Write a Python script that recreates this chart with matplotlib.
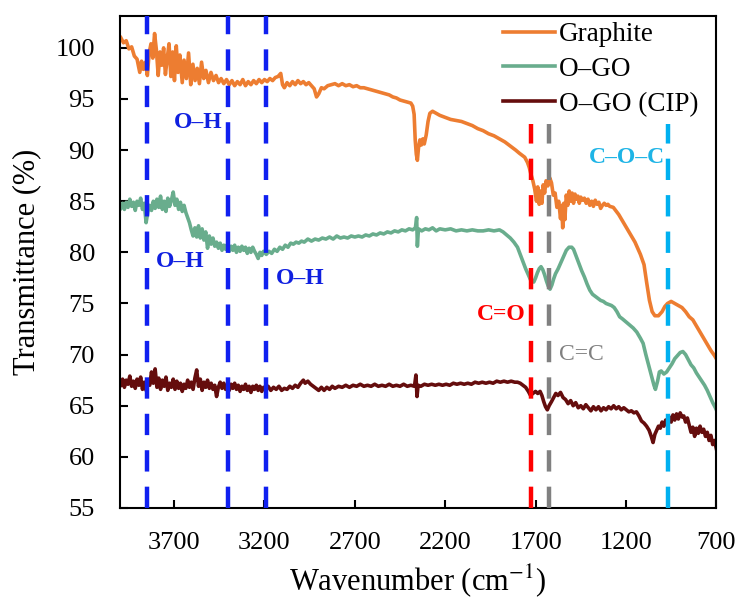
import matplotlib
matplotlib.use("Agg")
import matplotlib.pyplot as plt

# FTIR spectra (wavenumber in cm-1, transmittance in %)
graphite_wn = [3995, 3980, 3965, 3950, 3935, 3920, 3905, 3890, 3880, 3870, 3858, 3848, 3838, 3828,
               3818, 3808, 3798, 3788, 3778, 3768, 3758, 3748, 3738, 3728, 3718, 3708, 3698, 3688,
               3678, 3668, 3655, 3645, 3632, 3620, 3608, 3596, 3584, 3572, 3560, 3548, 3536, 3524,
               3510, 3496, 3482, 3468, 3454, 3440, 3425, 3410, 3395, 3380, 3365, 3350, 3335, 3320,
               3305, 3290, 3275, 3260, 3245, 3230, 3215, 3200, 3185, 3170, 3155, 3140, 3125, 3110,
               3100, 3090, 3075, 3060, 3045, 3030, 3015, 3000, 2985, 2970, 2955, 2940, 2925, 2912,
               2900, 2885, 2870, 2850, 2830, 2810, 2790, 2770, 2750, 2730, 2710, 2690, 2670, 2650,
               2630, 2610, 2590, 2570, 2550, 2530, 2510, 2490, 2470, 2450, 2430, 2410, 2390, 2380,
               2372, 2366, 2360, 2354, 2348, 2340, 2332, 2324, 2316, 2305, 2295, 2285, 2270, 2250,
               2230, 2200, 2170, 2140, 2110, 2080, 2050, 2020, 1990, 1960, 1930, 1900, 1870, 1840,
               1810, 1790, 1775, 1760, 1745, 1735, 1725, 1715, 1705, 1695, 1688, 1680, 1672, 1665,
               1658, 1650, 1642, 1632, 1622, 1612, 1602, 1592, 1582, 1572, 1562, 1556, 1550, 1544,
               1538, 1530, 1522, 1514, 1506, 1498, 1490, 1482, 1474, 1466, 1458, 1450, 1440, 1430,
               1420, 1410, 1400, 1390, 1380, 1370, 1360, 1350, 1340, 1330, 1320, 1310, 1300, 1290,
               1270, 1240, 1210, 1180, 1150, 1120, 1100, 1085, 1070, 1055, 1040, 1020, 1000, 985,
               970, 950, 930, 910, 890, 870, 850, 830, 810, 790, 770, 750, 730, 710, 700]
graphite_t = [101.0, 100.5, 100.7, 99.9, 100.1, 99.2, 98.9, 97.6, 98.7, 97.9, 98.6, 97.3, 99.5, 100.4,
              99.0, 101.4, 99.8, 97.3, 99.6, 98.3, 100.0, 97.4, 99.0, 100.4, 97.2, 99.6, 96.8, 100.2,
              97.6, 99.3, 96.6, 98.8, 97.0, 99.5, 96.4, 98.4, 96.8, 98.0, 96.5, 98.6, 97.0, 97.8,
              96.6, 97.6, 96.8, 97.3, 96.6, 97.0, 96.5, 96.9, 96.4, 96.8, 96.3, 96.7, 96.4, 96.9,
              96.3, 96.7, 96.4, 96.8, 96.5, 96.9, 96.6, 96.9, 96.7, 97.0, 96.8, 97.1, 97.2, 97.5,
              96.4, 96.1, 96.6, 96.3, 96.7, 96.4, 96.8, 96.5, 96.7, 96.4, 96.6, 96.3, 96.0, 95.2,
              95.5, 96.1, 96.0, 96.3, 96.4, 96.5, 96.3, 96.5, 96.3, 96.4, 96.2, 96.3, 96.1, 96.1,
              96.0, 95.9, 95.8, 95.7, 95.6, 95.5, 95.4, 95.2, 95.1, 94.9, 94.8, 94.7, 94.6, 94.3,
              93.5, 91.0, 89.6, 89.0, 90.2, 91.0, 90.5, 91.1, 90.6, 91.5, 92.8, 93.6, 93.8, 93.6,
              93.4, 93.2, 93.0, 92.9, 92.8, 92.6, 92.4, 92.1, 91.9, 91.6, 91.4, 91.1, 90.8, 90.4,
              90.0, 89.7, 89.5, 89.3, 88.8, 88.3, 87.6, 87.0, 86.2, 85.0, 86.4, 84.7, 86.0, 84.8,
              86.6, 85.8, 87.0, 86.5, 87.3, 86.8, 85.6, 85.8, 84.4, 85.0, 83.3, 84.6, 82.4, 84.8,
              83.2, 85.6, 84.6, 86.0, 85.0, 85.8, 84.8, 85.7, 85.2, 85.5, 84.8, 85.4, 85.1, 85.3,
              84.8, 85.2, 84.6, 85.0, 84.5, 85.1, 84.7, 84.9, 84.3, 84.6, 84.8, 84.6, 84.7, 84.5,
              84.4, 83.7, 82.8, 81.9, 81.0, 79.8, 78.8, 77.0, 75.3, 74.2, 73.8, 73.8, 74.2, 74.7,
              75.0, 75.2, 75.0, 74.8, 74.6, 74.2, 73.7, 73.4, 72.8, 72.2, 71.6, 71.0, 70.4, 69.9, 69.6]

ogo_wn = [3995, 3985, 3975, 3965, 3955, 3945, 3935, 3925, 3915, 3905, 3895, 3885, 3875, 3865,
          3855, 3845, 3835, 3825, 3815, 3805, 3795, 3785, 3775, 3765, 3755, 3745, 3735, 3725,
          3715, 3705, 3695, 3685, 3675, 3665, 3655, 3645, 3635, 3625, 3615, 3605, 3595, 3585,
          3575, 3565, 3555, 3545, 3535, 3525, 3515, 3505, 3495, 3485, 3475, 3465, 3455, 3445,
          3435, 3425, 3415, 3405, 3395, 3385, 3375, 3365, 3355, 3345, 3335, 3325, 3315, 3305,
          3295, 3285, 3275, 3265, 3255, 3245, 3235, 3225, 3215, 3205, 3190, 3175, 3160, 3145,
          3130, 3115, 3100, 3085, 3070, 3055, 3040, 3025, 3010, 2995, 2980, 2960, 2940, 2920,
          2900, 2880, 2860, 2840, 2820, 2800, 2780, 2760, 2740, 2720, 2700, 2680, 2660, 2640,
          2620, 2600, 2580, 2560, 2540, 2520, 2500, 2480, 2460, 2440, 2420, 2400, 2380, 2365,
          2358, 2354, 2348, 2330, 2310, 2290, 2270, 2250, 2230, 2200, 2170, 2140, 2110, 2080,
          2050, 2020, 1990, 1960, 1930, 1900, 1880, 1860, 1840, 1820, 1800, 1785, 1770, 1755,
          1740, 1725, 1710, 1700, 1690, 1680, 1670, 1660, 1650, 1640, 1630, 1620, 1610, 1600,
          1590, 1575, 1560, 1545, 1530, 1515, 1500, 1490, 1475, 1460, 1445, 1430, 1415, 1400,
          1385, 1370, 1355, 1340, 1325, 1310, 1295, 1280, 1265, 1250, 1235, 1220, 1200, 1180,
          1160, 1140, 1120, 1105, 1090, 1075, 1060, 1045, 1037, 1025, 1015, 1005, 990, 975,
          960, 945, 930, 915, 900, 885, 870, 855, 840, 825, 810, 795, 780, 765, 750, 735, 720,
          705, 700]
ogo_t = [84.3, 84.8, 84.2, 84.9, 84.4, 85.2, 84.5, 84.9, 84.1, 85.0, 84.6, 85.3, 84.2, 84.8,
         82.9, 84.0, 84.6, 84.1, 85.0, 84.3, 85.2, 84.4, 85.5, 84.2, 85.0, 84.0, 85.3, 84.5,
         85.1, 85.9, 84.6, 85.2, 84.2, 84.9, 84.0, 84.6, 83.9, 83.4, 82.9, 82.2, 81.6, 82.4,
         81.5, 82.6, 81.4, 82.3, 81.2, 82.0, 80.4, 81.6, 80.8, 81.4, 80.6, 81.0, 80.4, 80.9,
         80.2, 80.7, 80.3, 80.8, 80.1, 80.6, 80.2, 80.7, 80.0, 80.5, 80.1, 80.6, 80.2, 80.5,
         79.9, 80.4, 80.0, 80.5, 80.1, 79.8, 79.4, 80.0, 79.7, 80.1, 79.8, 80.1, 79.9, 80.3,
         80.1, 80.5, 80.3, 80.7, 80.5, 80.9, 80.8, 81.0, 80.9, 81.1, 81.0, 81.3, 81.1, 81.3,
         81.2, 81.4, 81.3, 81.5, 81.3, 81.6, 81.4, 81.5, 81.4, 81.6, 81.5, 81.6, 81.5, 81.7,
         81.6, 81.8, 81.7, 81.9, 81.8, 82.0, 81.9, 82.1, 82.0, 82.2, 82.1, 82.3, 82.2, 82.4,
         83.4, 80.6, 82.3, 82.1, 82.3, 82.2, 82.4, 82.1, 82.3, 82.2, 82.3, 82.1, 82.2, 82.1,
         82.2, 82.1, 82.1, 82.2, 82.1, 82.2, 82.0, 81.7, 81.4, 81.0, 80.5, 79.8, 79.1, 78.4,
         77.8, 77.2, 77.1, 77.5, 78.0, 78.4, 78.6, 78.3, 77.8, 77.2, 76.7, 76.4, 76.8, 77.4,
         77.9, 78.4, 79.0, 79.6, 80.2, 80.5, 80.5, 80.3, 79.6, 78.9, 78.2, 77.6, 76.9, 76.3,
         75.9, 75.7, 75.5, 75.3, 75.2, 75.0, 74.9, 74.8, 74.6, 74.2, 73.7, 73.5, 73.2, 72.9,
         72.6, 72.2, 71.6, 71.1, 70.0, 69.0, 68.0, 67.0, 66.6, 67.4, 68.3, 68.4, 68.1, 68.3,
         68.7, 69.1, 69.6, 69.9, 70.2, 70.3, 70.0, 69.5, 69.0, 68.7, 68.2, 67.8, 67.4, 67.0,
         66.5, 65.9, 65.3, 64.8, 64.6]

cip_wn = [3995, 3985, 3975, 3965, 3955, 3945, 3935, 3925, 3915, 3905, 3895, 3885, 3875, 3865,
          3855, 3845, 3835, 3825, 3815, 3805, 3795, 3785, 3775, 3765, 3755, 3745, 3735, 3725,
          3715, 3705, 3695, 3685, 3675, 3665, 3655, 3645, 3635, 3625, 3615, 3605, 3595, 3585,
          3575, 3565, 3555, 3545, 3535, 3525, 3515, 3505, 3495, 3485, 3475, 3465, 3455, 3445,
          3435, 3425, 3415, 3405, 3395, 3385, 3375, 3365, 3355, 3345, 3335, 3325, 3315, 3305,
          3295, 3285, 3275, 3265, 3255, 3245, 3235, 3225, 3215, 3205, 3195, 3180, 3165, 3150,
          3135, 3120, 3105, 3090, 3075, 3060, 3045, 3030, 3015, 3000, 2985, 2975, 2960, 2945,
          2930, 2915, 2900, 2885, 2870, 2855, 2840, 2825, 2810, 2790, 2770, 2750, 2730, 2710,
          2690, 2670, 2650, 2630, 2610, 2590, 2570, 2550, 2530, 2510, 2490, 2470, 2450, 2430,
          2410, 2390, 2370, 2362, 2356, 2350, 2335, 2315, 2295, 2275, 2255, 2235, 2215, 2195,
          2175, 2155, 2135, 2115, 2095, 2075, 2055, 2035, 2015, 1995, 1975, 1955, 1935, 1915,
          1895, 1875, 1855, 1835, 1815, 1800, 1785, 1770, 1755, 1740, 1728, 1715, 1700, 1688,
          1675, 1665, 1655, 1645, 1635, 1625, 1612, 1600, 1588, 1576, 1562, 1548, 1534, 1520,
          1506, 1492, 1478, 1464, 1450, 1436, 1422, 1408, 1394, 1380, 1366, 1352, 1338, 1324,
          1310, 1296, 1282, 1268, 1254, 1240, 1226, 1212, 1198, 1184, 1170, 1156, 1142, 1128,
          1114, 1100, 1086, 1072, 1060, 1050, 1040, 1030, 1020, 1010, 1000, 990, 980, 970,
          960, 950, 940, 930, 920, 910, 900, 890, 880, 870, 860, 850, 840, 830, 820, 810,
          800, 790, 780, 770, 760, 750, 740, 730, 720, 710, 700]
cip_t = [67.0, 67.6, 66.8, 67.5, 67.1, 67.9, 66.9, 67.4, 66.7, 67.6, 67.0, 67.8, 66.6, 67.3,
         66.5, 67.4, 67.0, 68.3, 67.2, 68.6, 66.8, 67.7, 66.6, 67.5, 66.9, 67.8, 66.5, 67.2,
         66.8, 67.6, 66.6, 67.4, 66.7, 67.2, 66.4, 67.1, 66.7, 67.5, 66.8, 67.3, 66.6, 67.7,
         68.5, 66.9, 67.6, 66.5, 67.3, 66.8, 67.5, 66.7, 67.2, 66.6, 67.0, 65.9, 66.8, 67.3,
         66.7, 67.2, 66.6, 67.0, 66.5, 67.1, 66.7, 67.2, 66.6, 67.0, 66.4, 66.9, 66.6, 67.1,
         66.5, 66.9, 66.3, 66.9, 66.6, 67.0, 66.5, 66.9, 66.4, 66.8, 66.6, 66.9, 66.5, 66.8,
         66.6, 66.9, 66.5, 66.7, 66.6, 66.9, 66.7, 67.0, 66.8, 67.2, 67.5, 67.2, 67.4, 67.1,
         66.9, 66.7, 66.5, 66.8, 66.5, 66.8, 66.6, 66.9, 66.7, 66.9, 66.8, 67.0, 66.8, 67.0,
         66.9, 67.1, 66.9, 67.0, 66.9, 67.1, 66.9, 67.0, 66.9, 67.1, 66.9, 67.0, 66.9, 67.1,
         66.9, 67.0, 66.9, 68.0, 65.9, 67.0, 66.9, 67.1, 67.0, 67.1, 67.0, 67.1, 67.0, 67.1,
         67.0, 67.2, 67.1, 67.2, 67.1, 67.2, 67.1, 67.3, 67.2, 67.3, 67.2, 67.3, 67.2, 67.4,
         67.3, 67.4, 67.3, 67.4, 67.3, 67.3, 67.2, 67.0, 66.8, 66.4, 66.0, 66.2, 66.4, 66.2,
         66.4, 66.0, 65.4, 64.9, 64.6, 65.0, 65.4, 65.8, 66.2, 66.0, 66.3, 65.8, 65.6, 65.2,
         65.5, 65.0, 65.3, 64.8, 65.0, 64.7, 65.1, 64.8, 64.5, 64.9, 64.6, 64.9, 64.5, 64.8,
         64.6, 64.9, 64.7, 65.0, 64.7, 64.9, 64.6, 64.8, 64.6, 64.4, 64.5, 64.3, 64.4, 64.0,
         63.5, 63.3, 63.0, 62.6, 62.0, 61.4, 62.2, 62.6, 63.0, 62.8, 63.4, 63.0, 63.6, 63.3,
         63.9, 63.4, 64.1, 63.6, 64.2, 63.7, 64.3, 63.9, 64.0, 63.4, 63.8, 63.1, 62.4, 62.9,
         62.0, 62.8, 62.3, 63.0, 62.4, 62.7, 62.0, 62.4, 61.6, 62.1, 61.2, 61.6, 60.8]

series_names = ["Graphite", "O\u2013GO", "O\u2013GO (CIP)"]
series_colors = ["#ED7D31", "#69AD8D", "#650D0D"]

# marker lines for functional groups (top end in axes fraction)
band_wn = [3850, 3400, 3190, 1728, 1623, 965]
band_colors = ["#1020F0", "#1020F0", "#1020F0", "#FF0000", "#808080", "#00B0F0"]
band_top = [1.0, 1.0, 1.0, 0.78, 0.78, 0.78]

labels = ["O\u2013H", "O\u2013H", "O\u2013H", "C=O", "C=C", "C\u2013O\u2013C"]
label_wn = [3568, 3667, 3004, 1888, 1446, 1192]
label_t = [92.7, 79.1, 77.4, 73.9, 70.0, 89.3]
label_colors = ["#1020E0", "#1020E0", "#1020E0", "#FF0000", "#808080", "#1EB4E6"]
label_weights = ["bold", "bold", "bold", "bold", "normal", "bold"]

plt.rcParams["font.family"] = ["Liberation Serif", "DejaVu Serif"]
plt.rcParams["mathtext.fontset"] = "stix"

fig = plt.figure(figsize=(7.4, 5.99), dpi=100)
ax = fig.add_axes([0.162, 0.152, 0.806, 0.821])

ax.plot(graphite_wn, graphite_t, color=series_colors[0], lw=2.6, label=series_names[0])
ax.plot(ogo_wn, ogo_t, color=series_colors[1], lw=2.6, label=series_names[1])
ax.plot(cip_wn, cip_t, color=series_colors[2], lw=2.6, label=series_names[2])

for wn, c, top in zip(band_wn, band_colors, band_top):
    ax.axvline(wn, ymax=top, color=c, lw=3.2, linestyle=(0, (4.8, 3.4)), zorder=3)

for txt, wn, t, c, w in zip(labels, label_wn, label_t, label_colors, label_weights):
    ax.text(wn, t, txt, color=c, fontsize=17, fontweight=w, ha="center", va="center")

ax.set_xlim(4000, 700)
ax.set_ylim(55, 103.1)
ax.set_xticks([3700, 3200, 2700, 2200, 1700, 1200, 700])
ax.set_yticks(range(55, 101, 5))
ax.tick_params(direction="in", length=6, width=1.5, labelsize=19)
ax.tick_params(axis="y", pad=18)
ax.tick_params(axis="x", pad=17)
for s in ax.spines.values():
    s.set_linewidth(1.5)

ax.set_xlabel("Wavenumber (cm$^{-1}$)", fontsize=22, labelpad=6)
ax.set_ylabel("Transmittance (%)", fontsize=22, labelpad=10)

ax.legend(loc="upper right", bbox_to_anchor=(0.995, 1.018), frameon=False, fontsize=19.5,
          handlelength=1.9, handletextpad=0.15, labelspacing=0.36, borderaxespad=0.15)

fig.savefig("out.png", dpi=100)
